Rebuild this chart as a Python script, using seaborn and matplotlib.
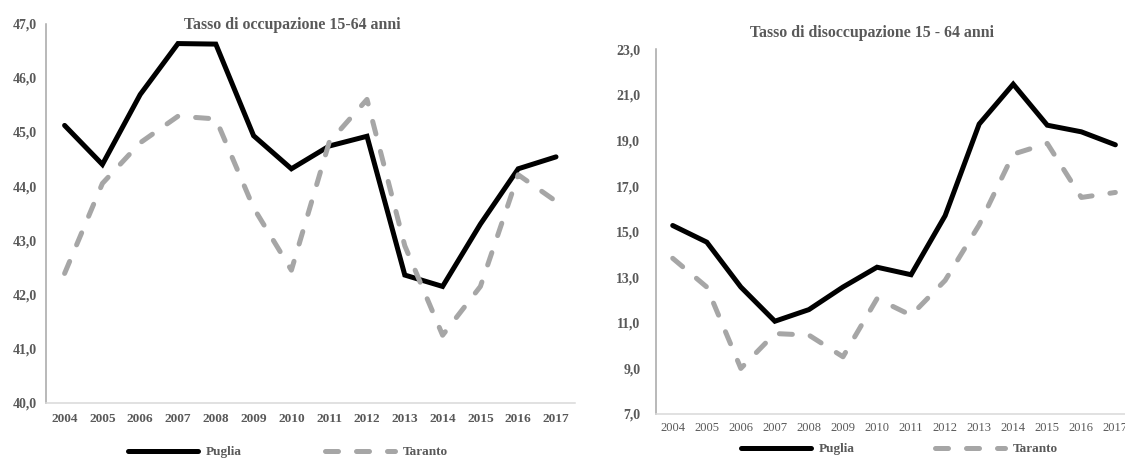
import matplotlib
matplotlib.use("Agg")
import matplotlib.pyplot as plt
from matplotlib.lines import Line2D
from matplotlib.ticker import FuncFormatter
import seaborn as sns
import pandas as pd

# Annual rates, 15-64 age band
years = [2004, 2005, 2006, 2007, 2008, 2009, 2010,
         2011, 2012, 2013, 2014, 2015, 2016, 2017]
occupazione_puglia = [45.12, 44.40, 45.69, 46.63, 46.62, 44.93, 44.32,
                      44.74, 44.92, 42.36, 42.15, 43.30, 44.32, 44.54]
occupazione_taranto = [42.39, 44.05, 44.80, 45.29, 45.24, 43.60, 42.45,
                       44.81, 45.60, 42.90, 41.25, 42.15, 44.21, 43.72]
disoccupazione_puglia = [15.27, 14.54, 12.57, 11.07, 11.58, 12.57, 13.44,
                         13.11, 15.70, 19.72, 21.47, 19.67, 19.38, 18.81]
disoccupazione_taranto = [13.83, 12.57, 9.00, 10.53, 10.46, 9.51, 12.06,
                          11.33, 12.86, 15.30, 18.40, 18.87, 16.50, 16.72]
occupazione_ticks = [40, 41, 42, 43, 44, 45, 46, 47]
disoccupazione_ticks = [7, 9, 11, 13, 15, 17, 19, 21, 23]
series_names = ["Puglia", "Taranto"]
titles = ["Tasso di occupazione 15-64 anni",
          "Tasso di disoccupazione 15 - 64 anni"]

sns.set_style("white")
plt.rcParams["font.family"] = ["Liberation Serif", "DejaVu Serif"]

W, H = 1125, 458
fig = plt.figure(figsize=(W / 100, H / 100), dpi=100)

TEXT = "#595959"
BLACK = "#000000"
GREY = "#A6A6A6"
LW = 3.6
DASH = (0, (2.6, 3.6))


def px_axes(x0, y_top, width, y_bottom):
    return fig.add_axes([x0 / W, 1 - y_bottom / H, width / W, (y_bottom - y_top) / H])


ax1 = px_axes(45.7, 23.5, 14 * 37.8, 403)
ax2 = px_axes(655.7, 49.3, 14 * 34.05, 414)

panels = [
    (ax1, occupazione_puglia, occupazione_taranto, occupazione_ticks, True, 9.6, 7, 6.5),
    (ax2, disoccupazione_puglia, disoccupazione_taranto, disoccupazione_ticks, False, 9.0, 6, 11),
]

for ax, puglia, taranto, yticks, bold_x, xsize, xpad, ypad in panels:
    df = pd.DataFrame({"Anno": years * 2,
                       "Valore": puglia + taranto,
                       "Area": [series_names[0]] * len(years) + [series_names[1]] * len(years)})
    sns.lineplot(data=df[df.Area == series_names[0]], x="Anno", y="Valore", ax=ax,
                 color=BLACK, lw=LW, legend=False,
                 solid_joinstyle="miter", solid_capstyle="round")
    sns.lineplot(data=df[df.Area == series_names[1]], x="Anno", y="Valore", ax=ax,
                 color=GREY, lw=LW, legend=False, linestyle=DASH,
                 dash_capstyle="round", dash_joinstyle="round")
    ax.set_xlim(years[0] - 0.5, years[-1] + 0.5)
    ax.set_ylim(yticks[0], yticks[-1])
    ax.set_yticks(yticks)
    ax.yaxis.set_major_formatter(FuncFormatter(lambda v, p: f"{v:.1f}".replace(".", ",")))
    ax.set_xticks(years)
    ax.set_xticklabels([str(y) for y in years],
                       fontweight="bold" if bold_x else "normal")
    ax.set_xlabel("")
    ax.set_ylabel("")
    for s in ("top", "right"):
        ax.spines[s].set_visible(False)
    ax.spines["left"].set_color("#A6A6A6")
    ax.spines["left"].set_linewidth(1.1)
    ax.spines["bottom"].set_color("#D9D9D9")
    ax.spines["bottom"].set_linewidth(1.1)
    ax.tick_params(axis="x", direction="in", length=3, width=0.8, color="#D9D9D9",
                   labelsize=xsize, labelcolor=TEXT, pad=xpad)
    ax.tick_params(axis="y", length=0, labelsize=10, labelcolor=TEXT, pad=ypad)
    for lab in ax.get_yticklabels():
        lab.set_fontweight("bold")
    ax.grid(False)

fig.text(292.5 / W, 1 - 25 / H, titles[0], ha="center", va="center",
         fontsize=11.4, fontweight="bold", color=TEXT)
fig.text(871.7 / W, 1 - 33.3 / H, titles[1], ha="center", va="center",
         fontsize=11.4, fontweight="bold", color=TEXT)

handles = [
    Line2D([], [], color=BLACK, lw=LW, solid_capstyle="round"),
    Line2D([], [], color=GREY, lw=LW, linestyle=DASH, dash_capstyle="round"),
]
for cx, cy, colsp in ((288, 452, 6.3), (899.7, 449, 6.1)):
    leg = fig.legend(handles, series_names, loc="center", ncol=2,
                     bbox_to_anchor=(cx / W, 1 - cy / H), frameon=False,
                     handlelength=5.3, handletextpad=0.6, columnspacing=colsp,
                     borderpad=0, prop={"weight": "bold", "size": 9.5})
    for t in leg.get_texts():
        t.set_color(TEXT)

fig.savefig("out.png", dpi=100)
